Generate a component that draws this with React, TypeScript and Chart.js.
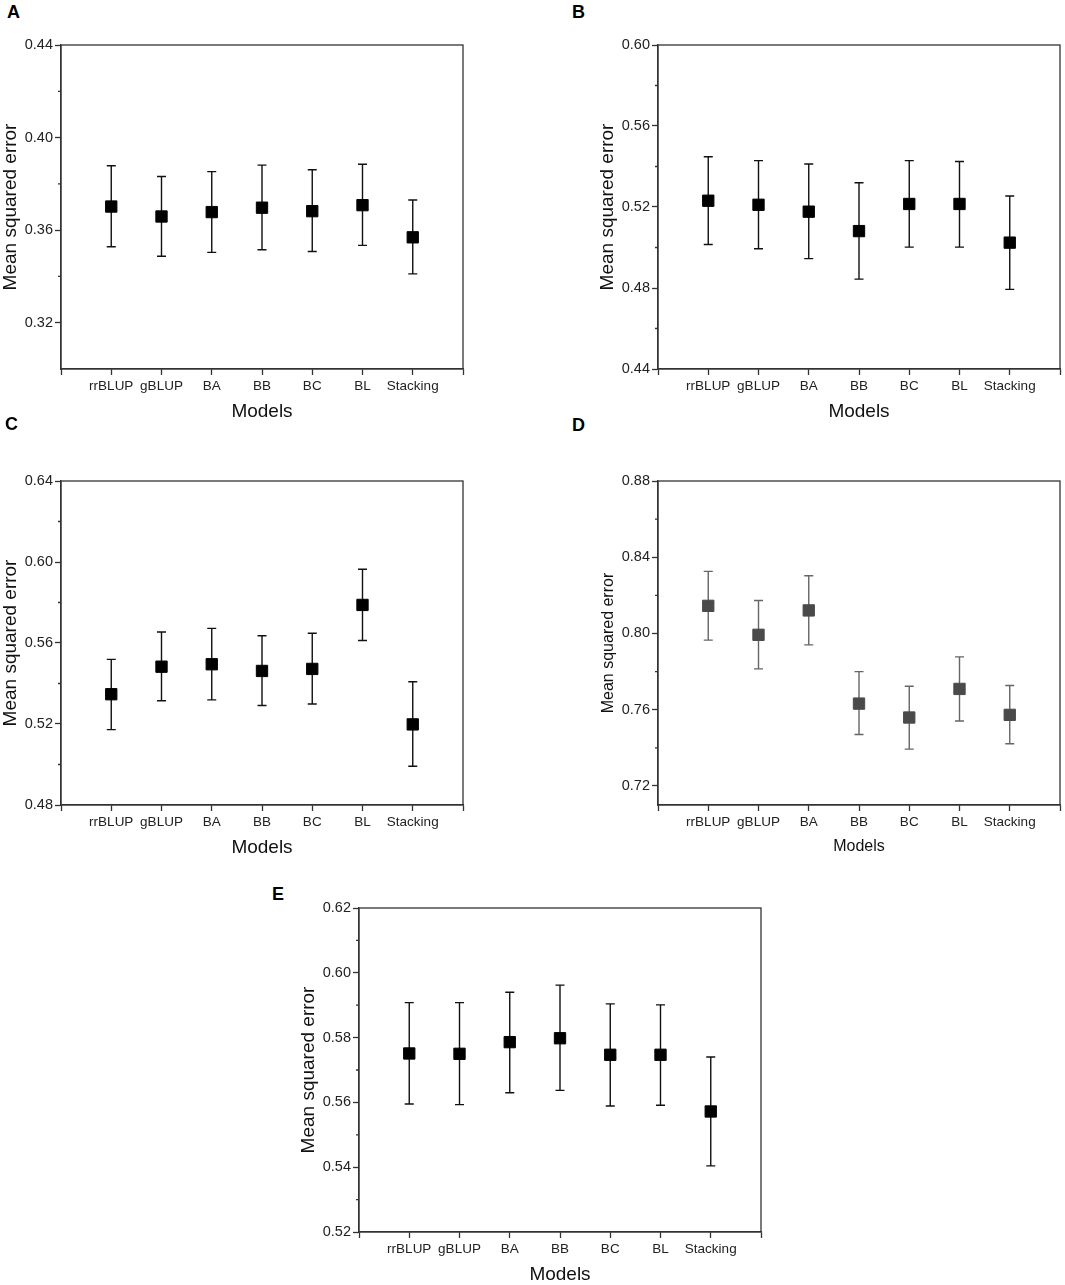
import { useEffect, useRef } from "react";
import { Chart, registerables } from "chart.js";

Chart.register(...registerables);

const FONT = "'Liberation Sans', Arial, Helvetica, sans-serif";

const models = ["rrBLUP", "gBLUP", "BA", "BB", "BC", "BL", "Stacking"];

// panel A
const aMean = [0.3702, 0.3659, 0.3678, 0.3697, 0.3682, 0.3708, 0.3569];
const aUpper = [0.3878, 0.3832, 0.3853, 0.3881, 0.3861, 0.3885, 0.373];
const aLower = [0.3528, 0.3487, 0.3504, 0.3515, 0.3508, 0.3534, 0.3411];
const aTicks = [0.32, 0.36, 0.4, 0.44];
const aMinor = [0.34, 0.38, 0.42];

// panel B
const bMean = [0.5231, 0.5211, 0.5177, 0.5081, 0.5215, 0.5215, 0.5024];
const bUpper = [0.5448, 0.5429, 0.5412, 0.532, 0.5429, 0.5425, 0.5254];
const bLower = [0.5015, 0.4994, 0.4945, 0.4844, 0.5002, 0.5002, 0.4793];
const bTicks = [0.44, 0.48, 0.52, 0.56, 0.6];
const bMinor = [0.46, 0.5, 0.54, 0.58];

// panel C
const cMean = [0.5347, 0.5483, 0.5495, 0.5462, 0.5472, 0.5788, 0.5198];
const cUpper = [0.5519, 0.5654, 0.5672, 0.5636, 0.5648, 0.5964, 0.5409];
const cLower = [0.5172, 0.5315, 0.5319, 0.5291, 0.5299, 0.5612, 0.4991];
const cTicks = [0.48, 0.52, 0.56, 0.6, 0.64];
const cMinor = [0.5, 0.54, 0.58, 0.62];

// panel D
const dMean = [0.8145, 0.7993, 0.8121, 0.7632, 0.7559, 0.7709, 0.7573];
const dUpper = [0.8326, 0.8173, 0.8303, 0.78, 0.7723, 0.7877, 0.7727];
const dLower = [0.7965, 0.7814, 0.794, 0.747, 0.7393, 0.7541, 0.7421];
const dTicks = [0.72, 0.76, 0.8, 0.84, 0.88];
const dMinor = [0.74, 0.78, 0.82, 0.86];

// panel E
const eMean = [0.5751, 0.575, 0.5786, 0.5798, 0.5747, 0.5747, 0.5572];
const eUpper = [0.5908, 0.5908, 0.594, 0.5962, 0.5904, 0.5901, 0.574];
const eLower = [0.5595, 0.5593, 0.563, 0.5637, 0.5589, 0.5591, 0.5404];
const eTicks = [0.52, 0.54, 0.56, 0.58, 0.6, 0.62];
const eMinor = [0.53, 0.55, 0.57, 0.59, 0.61];

const AXIS = "#333";

// whiskers, drawn under the markers at the point positions
const errorBars = {
  id: "errorBars",
  beforeDatasetsDraw(chart: any, _args: any, opts: any) {
    const { ctx, scales } = chart;
    const meta = chart.getDatasetMeta(0);
    ctx.save();
    ctx.strokeStyle = opts.color;
    ctx.lineWidth = 1.4;
    opts.lower.forEach((lo: number, i: number) => {
      const px = meta.data[i + 1].x;
      const y1 = scales.y.getPixelForValue(lo);
      const y2 = scales.y.getPixelForValue(opts.upper[i]);
      ctx.beginPath();
      ctx.moveTo(px, y1);
      ctx.lineTo(px, y2);
      ctx.moveTo(px - 4.5, y1);
      ctx.lineTo(px + 4.5, y1);
      ctx.moveTo(px - 4.5, y2);
      ctx.lineTo(px + 4.5, y2);
      ctx.stroke();
    });
    ctx.restore();
  },
};

// box frame + short minor ticks on the y axis
const frame = {
  id: "frame",
  afterDraw(chart: any, _args: any, opts: any) {
    const { ctx, chartArea, scales } = chart;
    ctx.save();
    ctx.strokeStyle = AXIS;
    ctx.lineWidth = 1.3;
    ctx.strokeRect(
      chartArea.left,
      chartArea.top,
      chartArea.right - chartArea.left,
      chartArea.bottom - chartArea.top
    );
    ctx.beginPath();
    opts.minor.forEach((v: number) => {
      const py = scales.y.getPixelForValue(v);
      ctx.moveTo(chartArea.left - 3, py);
      ctx.lineTo(chartArea.left, py);
    });
    ctx.stroke();
    ctx.restore();
  },
};

type PanelProps = {
  letter: string;
  left: number; // box left
  top: number; // box top
  letterX: number;
  letterY: number;
  mean: number[];
  upper: number[];
  lower: number[];
  ticks: number[];
  minor: number[];
  min: number;
  max: number;
  marker: string;
  bar: string;
  titleSize: number;
  yTitleX: number;
  xTitleGap: number;
};

const BOX_W = 403;
const BOX_H = 324;
const Y_W = 61;
const X_H = 60;
const PAD_T = 25;
const PAD_R = 8;

function Panel(p: PanelProps) {
  const ref = useRef<HTMLCanvasElement | null>(null);

  useEffect(() => {
    if (!ref.current) return;
    const chart = new Chart(ref.current, {
      type: "line",
      data: {
        labels: ["", ...models, ""],
        datasets: [
          {
            data: [null, ...p.mean, null],
            showLine: false,
            pointStyle: "rect",
            pointRadius: 8,
            pointHoverRadius: 8,
            pointBackgroundColor: p.marker,
            pointBorderColor: p.marker,
            pointBorderWidth: 1,
          },
        ],
      },
      options: {
        responsive: true,
        maintainAspectRatio: false,
        animation: false,
        layout: { padding: { top: PAD_T, right: PAD_R, left: 0, bottom: 0 } },
        plugins: {
          legend: { display: false },
          tooltip: { enabled: false },
          errorBars: { lower: p.lower, upper: p.upper, color: p.bar },
          frame: { minor: p.minor },
        } as any,
        scales: {
          x: {
            type: "category",
            offset: false,
            grid: {
              drawOnChartArea: false,
              offset: false,
              tickLength: 6,
              tickColor: AXIS,
              tickWidth: 1.3,
            },
            border: { color: AXIS, width: 1.3 },
            ticks: {
              autoSkip: false,
              maxRotation: 0,
              padding: 3,
              color: "#222",
              font: { family: FONT, size: 13.5 },
            },
            title: {
              display: true,
              text: "Models",
              color: "#111",
              font: { family: FONT, size: p.titleSize, lineHeight: 1 },
              padding: { top: 0, bottom: p.xTitleGap - p.titleSize / 2 },
            },
            afterFit: (s: any) => {
              s.height = X_H;
            },
          },
          y: {
            min: p.min,
            max: p.max,
            grid: {
              drawOnChartArea: false,
              tickLength: 6,
              tickColor: AXIS,
              tickWidth: 1.3,
            },
            border: { color: AXIS, width: 1.3 },
            afterBuildTicks: (s: any) => {
              s.ticks = p.ticks.map((v) => ({ value: v }));
            },
            ticks: {
              padding: 2,
              color: "#222",
              font: { family: FONT, size: 14.5 },
              callback: (v: any) => Number(v).toFixed(2),
            },
            title: {
              display: true,
              text: "Mean squared error",
              color: "#111",
              font: { family: FONT, size: p.titleSize, lineHeight: 1 },
              padding: { top: p.yTitleX - p.titleSize / 2, bottom: 0 },
            },
            afterFit: (s: any) => {
              s.width = Y_W;
            },
          },
        },
      },
      plugins: [errorBars, frame],
    });
    return () => chart.destroy();
  }, [p]);

  return (
    <>
      <div
        style={{
          position: "absolute",
          left: p.letterX,
          top: p.letterY,
          fontFamily: FONT,
          fontWeight: "bold",
          fontSize: 18,
          lineHeight: "18px",
          color: "#000",
        }}
      >
        {p.letter}
      </div>
      <div
        style={{
          position: "absolute",
          left: p.left - Y_W,
          top: p.top - PAD_T,
          width: Y_W + BOX_W + PAD_R,
          height: PAD_T + BOX_H + X_H,
        }}
      >
        <canvas ref={ref} />
      </div>
    </>
  );
}

const common = { marker: "#000", bar: "#111", titleSize: 19, yTitleX: 11, xTitleGap: 17 };

const panels: PanelProps[] = [
  { ...common, letter: "A", left: 61, top: 45, letterX: 7, letterY: 2.6, mean: aMean, upper: aUpper, lower: aLower, ticks: aTicks, minor: aMinor, min: 0.3, max: 0.44 },
  { ...common, letter: "B", left: 658, top: 45, letterX: 572, letterY: 2.6, mean: bMean, upper: bUpper, lower: bLower, ticks: bTicks, minor: bMinor, min: 0.44, max: 0.6 },
  { ...common, letter: "C", left: 61, top: 481, letterX: 5, letterY: 415, mean: cMean, upper: cUpper, lower: cLower, ticks: cTicks, minor: cMinor, min: 0.48, max: 0.64 },
  { ...common, letter: "D", left: 658, top: 481, letterX: 572, letterY: 416, mean: dMean, upper: dUpper, lower: dLower, ticks: dTicks, minor: dMinor, min: 0.71, max: 0.88, marker: "#4a4a4a", bar: "#666", titleSize: 16, yTitleX: 11.7, xTitleGap: 18.3 },
  { ...common, letter: "E", left: 359, top: 908, letterX: 272, letterY: 884.5, mean: eMean, upper: eUpper, lower: eLower, ticks: eTicks, minor: eMinor, min: 0.52, max: 0.62 },
];

export default function App() {
  return (
    <div
      style={{
        position: "absolute",
        left: 0,
        top: 0,
        width: 1065,
        height: 1285,
        background: "#fff",
        overflow: "hidden",
      }}
    >
      {panels.map((p) => (
        <Panel key={p.letter} {...p} />
      ))}
    </div>
  );
}
